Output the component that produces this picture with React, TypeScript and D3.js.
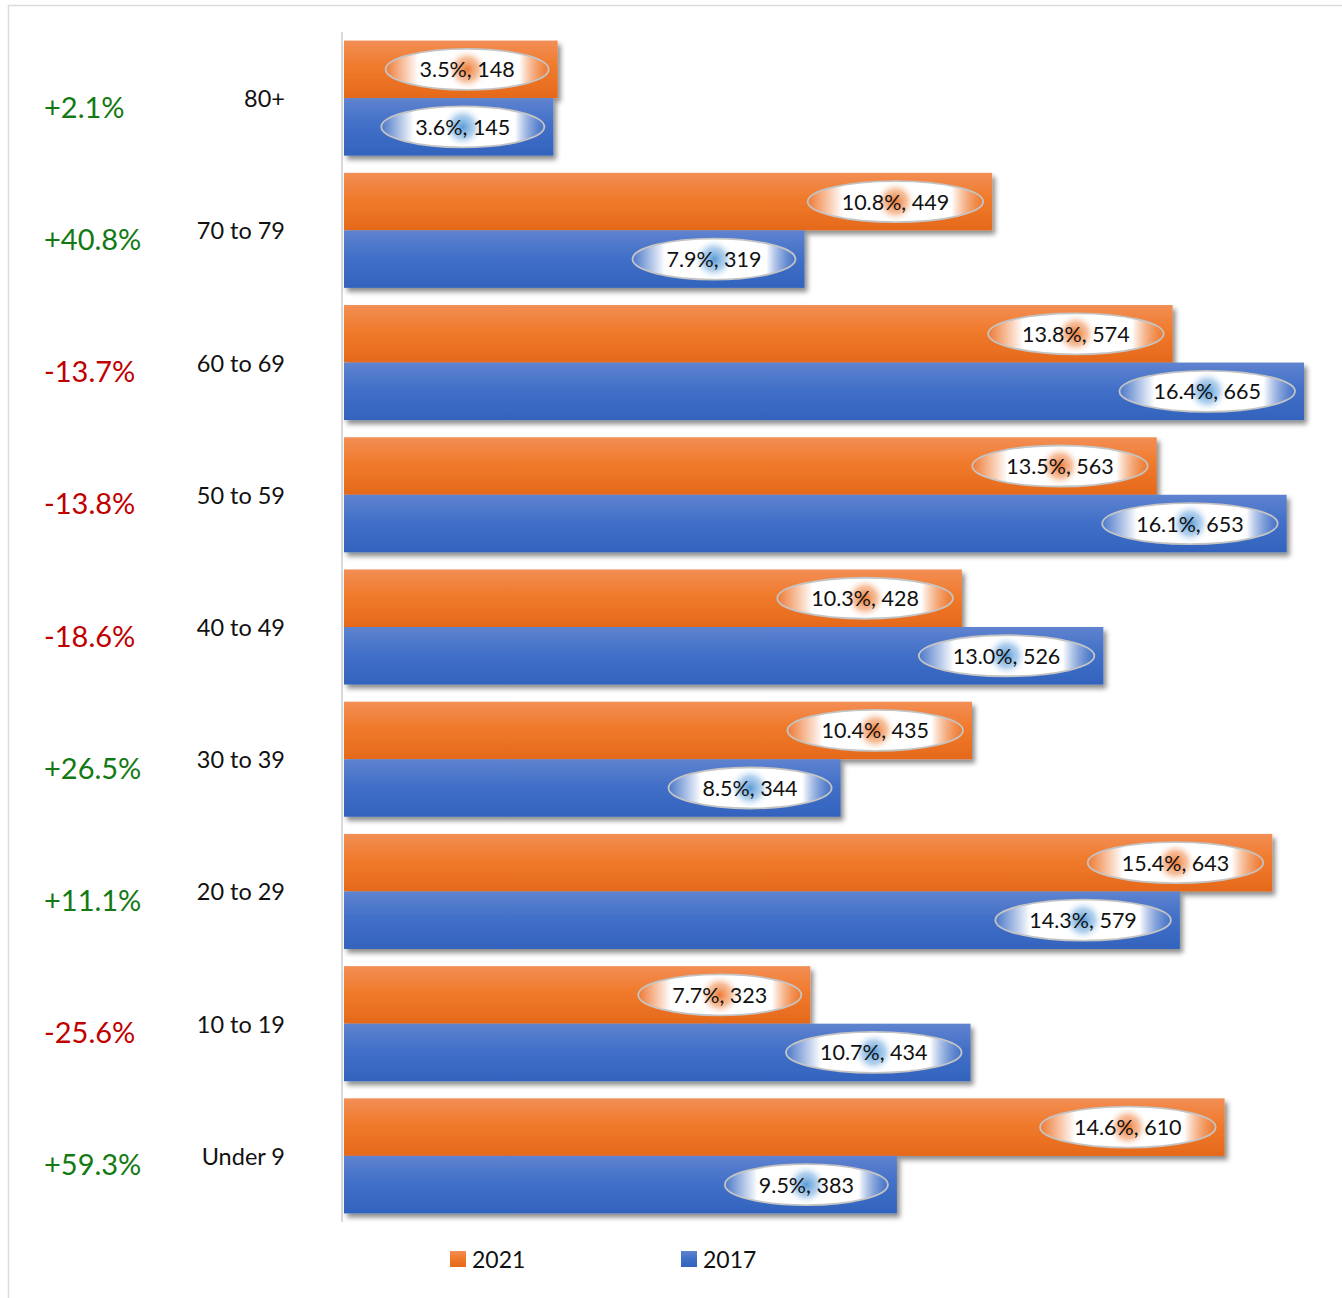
import React from "react";
import * as d3 from "d3";

const ages = ["80+", "70 to 79", "60 to 69", "50 to 59", "40 to 49", "30 to 39", "20 to 29", "10 to 19", "Under 9"];
const values2021 = [148, 449, 574, 563, 428, 435, 643, 323, 610];
const shares2021 = ["3.5%", "10.8%", "13.8%", "13.5%", "10.3%", "10.4%", "15.4%", "7.7%", "14.6%"];
const values2017 = [145, 319, 665, 653, 526, 344, 579, 434, 383];
const shares2017 = ["3.6%", "7.9%", "16.4%", "16.1%", "13.0%", "8.5%", "14.3%", "10.7%", "9.5%"];
const changes = ["+2.1%", "+40.8%", "-13.7%", "-13.8%", "-18.6%", "+26.5%", "+11.1%", "-25.6%", "+59.3%"];
const seriesNames = ["2021", "2017"];

const W = 1342;
const H = 1298;
const FONT = "Lato, 'Noto Sans', sans-serif";

let ctx: CanvasRenderingContext2D | null = null;
function measure(text: string, size: number) {
  if (!ctx) {
    const c = document.createElement("canvas");
    ctx = c.getContext("2d");
  }
  if (!ctx) return text.length * size * 0.5;
  ctx.font = `${size}px Lato`;
  return ctx.measureText(text).width;
}

export default function App() {
  const x = d3.scaleLinear().domain([0, 665]).range([344, 1304]);
  const y = d3.scaleBand<string>().domain(ages).range([32, 1222]).paddingInner(0.13).paddingOuter(0.065);
  const sub = d3.scaleBand<string>().domain(seriesNames).range([0, y.bandwidth()]);

  const series = [
    { name: "2021", values: values2021, shares: shares2021, grad: "gOrange", lab: "lOrange", blob: "bOrange" },
    { name: "2017", values: values2017, shares: shares2017, grad: "gBlue", lab: "lBlue", blob: "bBlue" },
  ];

  const labelSize = 21.5;

  return (
    <svg width={W} height={H} style={{ position: "absolute", left: 0, top: 0 }} fontFamily={FONT}>
      <defs>
        <linearGradient id="gOrange" x1="0" y1="0" x2="0" y2="1">
          <stop offset="0" stopColor="#f28e55" />
          <stop offset="0.45" stopColor="#f07a2c" />
          <stop offset="1" stopColor="#e5691b" />
        </linearGradient>
        <linearGradient id="gBlue" x1="0" y1="0" x2="0" y2="1">
          <stop offset="0" stopColor="#5f83cf" />
          <stop offset="0.45" stopColor="#4270c8" />
          <stop offset="1" stopColor="#3263bd" />
        </linearGradient>
        <linearGradient id="lOrange" x1="0" y1="0" x2="1" y2="0">
          <stop offset="0" stopColor="#ee7a35" stopOpacity="0.95" />
          <stop offset="0.2" stopColor="#ffffff" />
          <stop offset="0.82" stopColor="#ffffff" />
          <stop offset="1" stopColor="#ee7a35" stopOpacity="0.45" />
        </linearGradient>
        <linearGradient id="lBlue" x1="0" y1="0" x2="1" y2="0">
          <stop offset="0" stopColor="#4a78c8" stopOpacity="0.95" />
          <stop offset="0.2" stopColor="#ffffff" />
          <stop offset="0.82" stopColor="#ffffff" />
          <stop offset="1" stopColor="#4a78c8" stopOpacity="0.45" />
        </linearGradient>
        <radialGradient id="bOrange">
          <stop offset="0" stopColor="#ee7a35" stopOpacity="1" />
          <stop offset="0.55" stopColor="#f29a62" stopOpacity="0.6" />
          <stop offset="1" stopColor="#ffffff" stopOpacity="0" />
        </radialGradient>
        <radialGradient id="bBlue">
          <stop offset="0" stopColor="#5b9bd5" stopOpacity="1" />
          <stop offset="0.55" stopColor="#8dbbe6" stopOpacity="0.65" />
          <stop offset="1" stopColor="#ffffff" stopOpacity="0" />
        </radialGradient>
        <filter id="shadow" x="-5%" y="-20%" width="115%" height="160%">
          <feDropShadow dx="3" dy="4" stdDeviation="2.5" floodColor="#000" floodOpacity="0.45" />
        </filter>
      </defs>

      <rect x={8.5} y={5.5} width={W} height={H} fill="#fff" stroke="#dcdcdc" strokeWidth={1.5} />

      <line x1={342} x2={342} y1={32} y2={1222} stroke="#d9d9d9" strokeWidth={2} />

      {ages.map((age, i) => {
        const gy = y(age)!;
        const cy = gy + y.bandwidth() / 2;
        const ch = changes[i];
        return (
          <g key={age}>
            <text x={285} y={cy} textAnchor="end" dominantBaseline="central" fontSize={23.5} fill="#111">
              {age}
            </text>
            <text x={44} y={cy + 8} dominantBaseline="central" fontSize={29} fill={ch.startsWith("-") ? "#c00000" : "#137a13"}>
              {ch}
            </text>
          </g>
        );
      })}

      {series.map((s) => (
        <g key={s.name}>
          {ages.map((age, i) => {
            const by = y(age)! + sub(s.name)!;
            return (
              <rect
                key={age}
                x={x(0)}
                y={by}
                width={x(s.values[i]) - x(0)}
                height={sub.bandwidth()}
                fill={`url(#${s.grad})`}
                filter="url(#shadow)"
              />
            );
          })}
        </g>
      ))}

      {series.map((s) => (
        <g key={s.name + "lab"}>
          {ages.map((age, i) => {
            const by = y(age)! + sub(s.name)!;
            const cy = by + sub.bandwidth() / 2;
            const text = `${s.shares[i]}, ${s.values[i]}`;
            const tw = measure(text, labelSize);
            const rx = tw / 2 + 34;
            const cx = x(s.values[i]) - 9 - rx;
            return (
              <g key={age}>
                <ellipse cx={cx} cy={cy} rx={rx} ry={20.5} fill={`url(#${s.lab})`} stroke="#c4c4c4" strokeWidth={1.8} />
                <circle cx={cx} cy={cy} r={21} fill={`url(#${s.blob})`} />
                <text x={cx} y={cy} textAnchor="middle" dominantBaseline="central" fontSize={labelSize} fill="#111">
                  {text}
                </text>
              </g>
            );
          })}
        </g>
      ))}

      <g>
        <rect x={450} y={1251} width={16} height={16} fill="url(#gOrange)" />
        <text x={472} y={1259} dominantBaseline="central" fontSize={23} fill="#111">
          {seriesNames[0]}
        </text>
        <rect x={681} y={1251} width={16} height={16} fill="url(#gBlue)" />
        <text x={703} y={1259} dominantBaseline="central" fontSize={23} fill="#111">
          {seriesNames[1]}
        </text>
      </g>
    </svg>
  );
}
